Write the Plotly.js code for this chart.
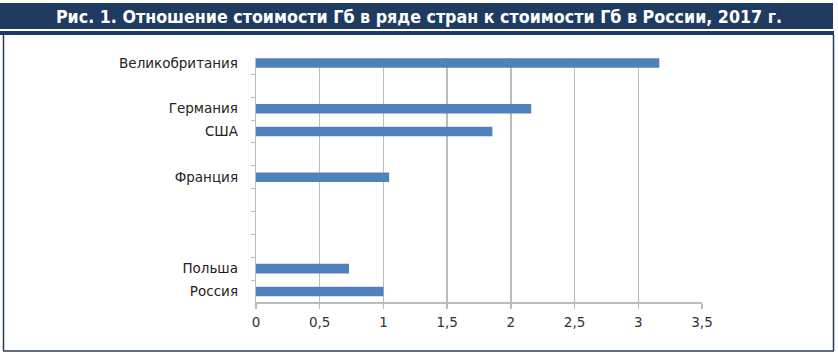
<!DOCTYPE html>
<html>
<head>
<meta charset="utf-8">
<script src="https://cdn.plot.ly/plotly-3.0.1.min.js"></script>
<style>
  html, body { margin: 0; padding: 0; background: #ffffff; }
  #chart { width: 838px; height: 357px; }
</style>
</head>
<body>
<div id="chart"></div>
<script>
// Categories from bottom to top (blank entries are empty rows of the original chart)
var categories = ["Россия", "Польша", " ", "  ", "   ", "Франция", "    ", "США", "Германия", "     ", "Великобритания"];
var values = [1.0, 0.73, null, null, null, 1.045, null, 1.855, 2.16, null, 3.165];
var xTickVals = [0, 0.5, 1, 1.5, 2, 2.5, 3, 3.5];
var xTickText = ["0", "0,5", "1", "1,5", "2", "2,5", "3", "3,5"];
var titleText = "Рис. 1. Отношение стоимости Гб в ряде стран к стоимости Гб в России, 2017 г.";

var W = 838, H = 357;
var plotL = 256, plotR = 702, plotT = 58, plotB = 302;
function px(x) { return (x - plotL) / (plotR - plotL); }
function py(y) { return (plotB - y) / (plotB - plotT); }

var navy = "#1f3b60";
var border = "#2b3d4f";

var shapes = [
  {type: "rect", xref: "paper", yref: "paper", x0: px(0), x1: px(833), y0: py(3), y1: py(29), fillcolor: navy, line: {width: 0}, layer: "below"},
  {type: "rect", xref: "paper", yref: "paper", x0: px(0), x1: px(834), y0: py(31), y1: py(35), fillcolor: navy, line: {width: 0}, layer: "below"},
  {type: "line", xref: "paper", yref: "paper", x0: px(3.5), x1: px(3.5), y0: py(35), y1: py(351), line: {color: border, width: 1.5}},
  {type: "line", xref: "paper", yref: "paper", x0: px(833.5), x1: px(833.5), y0: py(35), y1: py(351), line: {color: border, width: 1.5}},
  {type: "line", xref: "paper", yref: "paper", x0: px(3), x1: px(834), y0: py(351), y1: py(351), line: {color: border, width: 1.5}}
];

var trace = {
  type: "bar",
  orientation: "h",
  x: values,
  y: categories,
  marker: {color: "#4f81bd", line: {width: 0}},
  hoverinfo: "x+y"
};

var layout = {
  width: W,
  height: H,
  margin: {l: plotL, r: W - plotR, t: plotT, b: H - plotB, pad: 0},
  paper_bgcolor: "#ffffff",
  plot_bgcolor: "#ffffff",
  showlegend: false,
  bargap: 0.58,
  title: {
    text: "<b>" + titleText + "</b>",
    font: {family: "DejaVu Sans Condensed, DejaVu Sans, sans-serif", size: 17.7, color: "#ffffff"},
    x: 0.5, xref: "container", xanchor: "center",
    y: 1 - 17 / H, yref: "container", yanchor: "middle"
  },
  xaxis: {
    range: [0, 3.5],
    tickvals: xTickVals,
    ticktext: xTickText,
    showgrid: true,
    gridcolor: "#bcbcbc",
    gridwidth: 1.5,
    zeroline: false,
    showline: true,
    linecolor: "#bcbcbc",
    linewidth: 1.5,
    ticks: "outside",
    ticklen: 5,
    tickcolor: "#bcbcbc",
    tickwidth: 1.5,
    ticklabelstandoff: 2,
    tickfont: {family: "DejaVu Sans, sans-serif", size: 13.5, color: "#333333"},
    fixedrange: true
  },
  yaxis: {
    type: "category",
    categoryorder: "array",
    categoryarray: categories,
    range: [-0.46, 10.22],
    tickson: "boundaries",
    ticks: "outside",
    ticklen: 4,
    tickcolor: "#bcbcbc",
    tickwidth: 1,
    showgrid: false,
    zeroline: false,
    showline: true,
    linecolor: "#bcbcbc",
    linewidth: 1.3,
    ticklabelstandoff: 14,
    tickfont: {family: "DejaVu Sans, sans-serif", size: 13.5, color: "#222222"},
    fixedrange: true
  },
  shapes: shapes
};

Plotly.newPlot("chart", [trace], layout, {displayModeBar: false, staticPlot: true});
</script>
</body>
</html>
